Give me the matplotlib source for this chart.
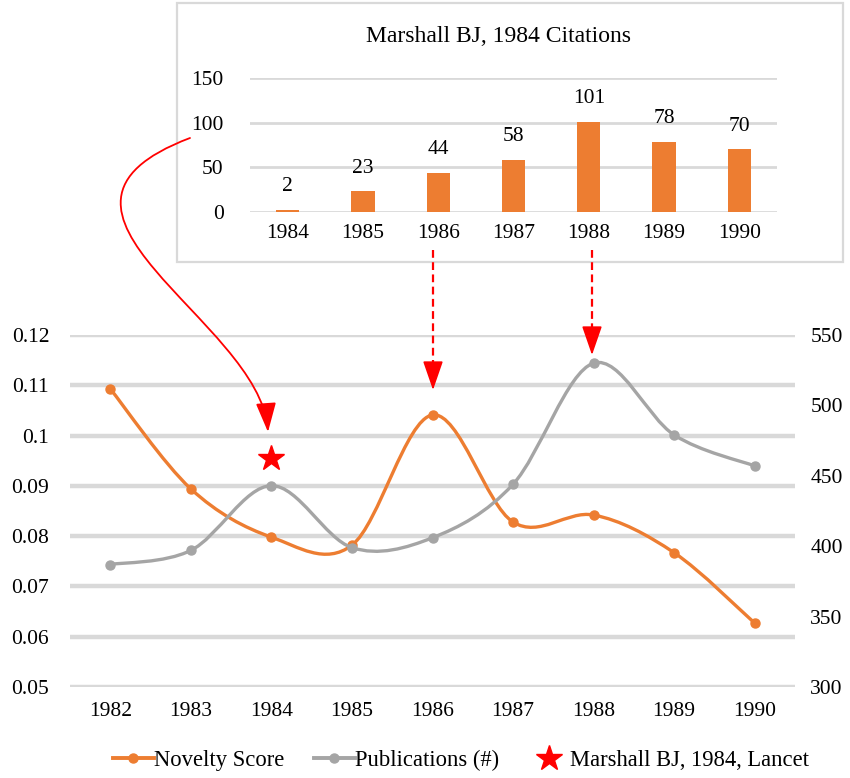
import matplotlib
matplotlib.use("Agg")
import matplotlib.pyplot as plt
import numpy as np
from matplotlib.path import Path
from matplotlib.patches import PathPatch, FancyArrowPatch, Rectangle
from matplotlib.lines import Line2D
from matplotlib.transforms import Affine2D

plt.rcParams['font.family'] = ['Liberation Serif', 'DejaVu Serif']

years = ['1982', '1983', '1984', '1985', '1986', '1987', '1988', '1989', '1990']
novelty = [0.1093, 0.0894, 0.0798, 0.0782, 0.1041, 0.0828, 0.0842, 0.0767, 0.0627]
publications = [387, 397, 443, 399, 406, 444, 530, 479, 457]
star_year_idx = 2
star_value = 0.0955

cit_years = ['1984', '1985', '1986', '1987', '1988', '1989', '1990']
citations = [2, 23, 44, 58, 101, 78, 70]

ORANGE = '#ED7D31'
GRAY = '#A5A5A5'
GRID = '#D9D9D9'
FS = 15.5

W, H = 850, 778
fig = plt.figure(figsize=(W / 100, H / 100), dpi=100)
px = Affine2D().scale(1 / W, -1 / H).translate(0, 1) + fig.transFigure


def smooth_path(xs, ys):
    pts = np.column_stack([xs, ys]).astype(float)
    n = len(pts)
    verts = [pts[0]]
    codes = [Path.MOVETO]
    for i in range(n - 1):
        p0 = pts[i - 1] if i > 0 else pts[i]
        p1 = pts[i]
        p2 = pts[i + 1]
        p3 = pts[i + 2] if i + 2 < n else pts[i + 1]
        c1 = p1 + (p2 - p0) / 6.0
        c2 = p2 - (p3 - p1) / 6.0
        verts += [c1, c2, p2]
        codes += [Path.CURVE4] * 3
    return Path(verts, codes)


# Inset box (behind everything)
fig.patches.append(Rectangle((177, 3), 666, 259, transform=px, fill=True, fc='white',
                             ec=GRID, lw=1.6, zorder=-5))

# Main axes
ax = fig.add_axes([70 / W, 1 - 687 / H, 725 / W, 352 / H])
ax.patch.set_alpha(0)
ax2 = ax.twinx()
x = np.arange(len(years))

ax.set_xlim(-0.5, len(years) - 0.5)
ax.set_ylim(0.05, 0.12)
ax.set_yticks(np.arange(0.05, 0.1201, 0.01))
ax.set_yticklabels(['0.05', '0.06', '0.07', '0.08', '0.09', '0.1', '0.11', '0.12'])
ax2.set_ylim(300, 550)
ax2.set_yticks(np.arange(300, 551, 50))
ax.set_xticks(x)
ax.set_xticklabels(years)
for a in (ax, ax2):
    for s in a.spines.values():
        s.set_visible(False)
ax.grid(axis='y', color=GRID, lw=3.2)
ax.set_axisbelow(True)
ax.tick_params(axis='both', length=0, labelsize=FS)
ax.tick_params(axis='y', pad=15)
ax.tick_params(axis='x', pad=11)
ax2.tick_params(axis='y', length=0, labelsize=FS, pad=11)

ax.add_patch(PathPatch(smooth_path(x, novelty), fill=False, ec=ORANGE, lw=2.4, capstyle='round'))
ax.plot(x, novelty, 'o', color=ORANGE, ms=6.5)
ax2.add_patch(PathPatch(smooth_path(x, publications), fill=False, ec=GRAY, lw=2.4, capstyle='round'))
ax2.plot(x, publications, 'o', color=GRAY, ms=6.5)
ax2.plot([star_year_idx], [300 + (star_value - 0.05) / 0.07 * 250], marker='*',
         color='red', ms=19, ls='none', zorder=5)

# Inset chart
ia = fig.add_axes([250 / W, 1 - 212 / H, 527 / W, 134 / H])
ia.patch.set_alpha(0)
xi = np.arange(len(cit_years))
bars = ia.bar(xi, citations, width=0.31, color=ORANGE, zorder=3)
ia.bar_label(bars, labels=[str(c) for c in citations], padding=10, fontsize=FS)
ia.set_xlim(-0.5, len(cit_years) - 0.5)
ia.set_ylim(0, 150)
ia.set_yticks([0, 50, 100, 150])
ia.set_xticks(xi)
ia.set_xticklabels(cit_years)
for s in ia.spines.values():
    s.set_visible(False)
ia.grid(axis='y', color=GRID, lw=2)
ia.set_axisbelow(True)
ia.tick_params(axis='both', length=0, labelsize=FS)
ia.tick_params(axis='y', pad=19)
ia.tick_params(axis='x', pad=9)
fig.text(499 / W, 1 - 37 / H, 'Marshall BJ, 1984 Citations', ha='center', va='center', fontsize=17)

# Arrows
curve = Path([(190, 138), (0, 210), (260, 320), (268, 432)],
             [Path.MOVETO, Path.CURVE4, Path.CURVE4, Path.CURVE4])
fig.patches.append(FancyArrowPatch(path=curve, transform=px, arrowstyle='-|>,head_length=1.3,head_width=0.45',
                                   mutation_scale=14, color='red', lw=1.3))
for xa, y0, y1 in [(433, 250, 390), (592, 250, 355)]:
    fig.lines.append(Line2D([xa, xa], [y0, y1 - 14], transform=px, color='red', lw=1.6, ls=(0, (3.5, 2))))
    fig.patches.append(FancyArrowPatch((xa, y1 - 16), (xa, y1), transform=px,
                                       arrowstyle='-|>,head_length=1.3,head_width=0.45',
                                       mutation_scale=14, color='red', lw=1.2, shrinkA=0, shrinkB=0))

# Legend
handles = [Line2D([], [], color=ORANGE, lw=2.8, marker='o', ms=6.5),
           Line2D([], [], color=GRAY, lw=2.8, marker='o', ms=6.5),
           Line2D([], [], color='red', marker='*', ms=19, ls='none')]
fig.legend(handles, ['Novelty Score', 'Publications (#)', 'Marshall BJ, 1984, Lancet'],
           loc='center', bbox_to_anchor=(461 / W, 1 - 760 / H), ncol=3, frameon=False,
           fontsize=16.3, handlelength=1.8, handletextpad=0.02, columnspacing=1.3)

fig.savefig('out.png', dpi=100)
